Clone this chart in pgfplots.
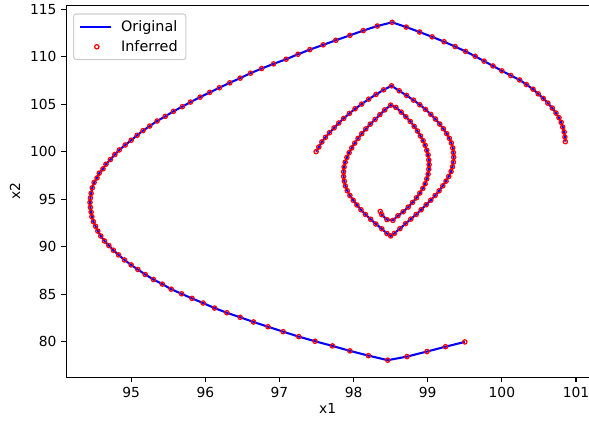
\documentclass[border=0pt]{standalone}
\usepackage{fontspec}
\setmainfont{DejaVu Sans}
\usepackage{pgfplots}
\pgfplotsset{compat=1.18}
\usepackage{pgfplotstable}
\usetikzlibrary{calc}

\pgfplotsset{
  linelegend/.style={legend image code/.code={\draw[##1] (0pt,0pt) -- (22.3pt,0pt);}},
  marklegend/.style={legend image code/.code={\draw[##1] plot coordinates {(12pt,0pt)};}},
}

% outer trajectory: x1 x2
\pgfplotstableread{
x y
99.50 80.00
99.24 79.50
98.99 78.99
98.72 78.46
98.46 78.08
98.20 78.56
97.95 79.06
97.715 79.58
97.48 80.07
97.26 80.56
97.05 81.08
96.845 81.60
96.65 82.10
96.47 82.59
96.29 83.07
96.125 83.56
95.97 84.09
95.82 84.58
95.68 85.06
95.54 85.55
95.42 86.08
95.30 86.57
95.19 87.09
95.09 87.62
95.00 88.10
94.91 88.62
94.83 89.15
94.76 89.64
94.70 90.13
94.64 90.62
94.59 91.14
94.55 91.66
94.52 92.16
94.49 92.65
94.47 93.17
94.46 93.65
94.45 94.15
94.445 94.67
94.45 95.14
94.46 95.62
94.476 96.21
94.50 96.77
94.54 97.25
94.57 97.75
94.62 98.20
94.66 98.69
94.72 99.18
94.78 99.71
94.84 100.19
94.92 100.71
95.00 101.21
95.08 101.73
95.16 102.22
95.25 102.70
95.35 103.23
95.46 103.72
95.57 104.25
95.69 104.74
95.80 105.22
95.93 105.74
96.06 106.24
96.19 106.73
96.33 107.25
96.47 107.74
96.61 108.26
96.76 108.75
96.92 109.24
97.09 109.73
97.25 110.25
97.41 110.74
97.59 111.24
97.76 111.72
97.95 112.24
98.13 112.74
98.32 113.22
98.52 113.61
98.71 113.11
98.89 112.59
99.06 112.08
99.22 111.57
99.37 111.06
99.51 110.55
99.64 110.04
99.76 109.53
99.88 109.02
100.00 108.51
100.12 108.02
100.24 107.55
100.33 107.07
100.42 106.58
100.49 106.09
100.56 105.60
100.62 105.11
100.68 104.59
100.73 104.07
100.77 103.58
100.80 103.09
100.82 102.60
100.84 102.08
100.85 101.55
100.856 101.06
}\outertab

% inner spiral: x1 x2
\pgfplotstableread{
x y
97.495 100.01
97.531 100.50
97.572 101.03
97.621 101.52
97.675 102.00
97.737 102.51
97.800 103.02
97.867 103.51
97.944 104.03
98.020 104.52
98.109 105.01
98.203 105.53
98.302 106.02
98.405 106.51
98.512 106.93
98.616 106.41
98.714 105.92
98.808 105.43
98.893 104.94
98.970 104.45
99.041 103.93
99.104 103.44
99.162 102.91
99.211 102.42
99.256 101.90
99.292 101.41
99.319 100.92
99.337 100.40
99.346 99.91
99.350 99.42
99.346 98.90
99.333 98.41
99.315 97.92
99.283 97.40
99.247 96.91
99.203 96.42
99.153 95.89
99.100 95.40
99.041 94.91
98.979 94.43
98.911 93.90
98.844 93.41
98.772 92.92
98.701 92.44
98.625 91.91
98.550 91.42
98.500 91.15
98.450 91.40
98.38 91.90
98.30 92.40
98.23 92.90
98.16 93.40
98.10 93.90
98.045 94.40
97.995 94.90
97.95 95.40
97.915 95.90
97.89 96.40
97.875 96.90
97.865 97.40
97.865 97.90
97.872 98.40
97.887 98.90
97.91 99.40
97.94 99.90
97.975 100.40
98.015 100.90
98.06 101.40
98.11 101.90
98.165 102.40
98.225 102.90
98.29 103.40
98.355 103.90
98.42 104.40
98.50 104.90
98.571 104.66
98.642 104.17
98.705 103.68
98.764 103.19
98.817 102.67
98.862 102.18
98.902 101.66
98.938 101.17
98.965 100.68
98.987 100.15
99.005 99.67
99.014 99.14
99.019 98.65
99.014 98.16
99.005 97.64
98.987 97.15
98.965 96.63
98.934 96.14
98.893 95.65
98.849 95.16
98.795 94.67
98.737 94.18
98.669 93.69
98.598 93.27
98.53 92.78
98.45 92.86
98.38 93.38
98.36 93.72
}\innertab

\begin{document}
\begin{tikzpicture}
\begin{axis}[
  width=377.8pt, height=268.6pt, scale only axis,
  xmin=94.125, xmax=101.177, ymin=76.30, ymax=115.39,
  separate axis lines,
  axis x line*=bottom, axis y line*=left,
  axis line style={line width=0.8pt},
  xtick={95,96,97,98,99,100,101},
  ytick={80,85,90,95,100,105,110,115},
  tick align=outside, major tick length=3.5pt,
  every tick/.style={black, line width=0.8pt},
  tick label style={font=\fontsize{10}{12}\selectfont},
  /pgf/number format/assume math mode=true,
  xlabel={x1}, ylabel={x2},
  label style={font=\fontsize{10}{12}\selectfont},
  xlabel style={at={(axis description cs:0.5,-0.0979)}, anchor=base},
  ylabel style={at={(axis description cs:-0.098,0.5)}, anchor=center},
  legend cell align=left,
  legend style={at={(axis description cs:0,1)}, anchor=north west,
    xshift=4.9pt, yshift=-5.8pt, draw=black!20, line width=0.8pt,
    rounded corners=2pt, fill=white, fill opacity=0.8, text opacity=1,
    inner xsep=4pt, inner ysep=2.6pt, row sep=1pt, column sep=4.5pt,
    font=\fontsize{10.4}{12}\selectfont},
]
\coordinate (SW) at (rel axis cs:0,0);
\coordinate (NE) at (rel axis cs:1,1);
\addplot[blue, line width=1.5pt, mark=none, linelegend] table[x=x,y=y] {\outertab};
\addplot[blue, line width=1.5pt, mark=none, forget plot] table[x=x,y=y] {\innertab};
\addplot[only marks, mark=o, mark size=1.55pt, mark options={red, line width=0.9pt}, marklegend] table[x=x,y=y] {\outertab};
\addplot[only marks, mark=o, mark size=1.55pt, mark options={red, line width=0.9pt}, forget plot] table[x=x,y=y] {\innertab};
\legend{Original, Inferred}
\end{axis}
\draw[line width=0.8pt] (SW|-NE) -- (NE);
\pgfresetboundingbox
\path[use as bounding box] ($(SW)+(-47.9pt,-34.9pt)$) rectangle ++(425.6pt,307.4pt);
\end{tikzpicture}
\end{document}
